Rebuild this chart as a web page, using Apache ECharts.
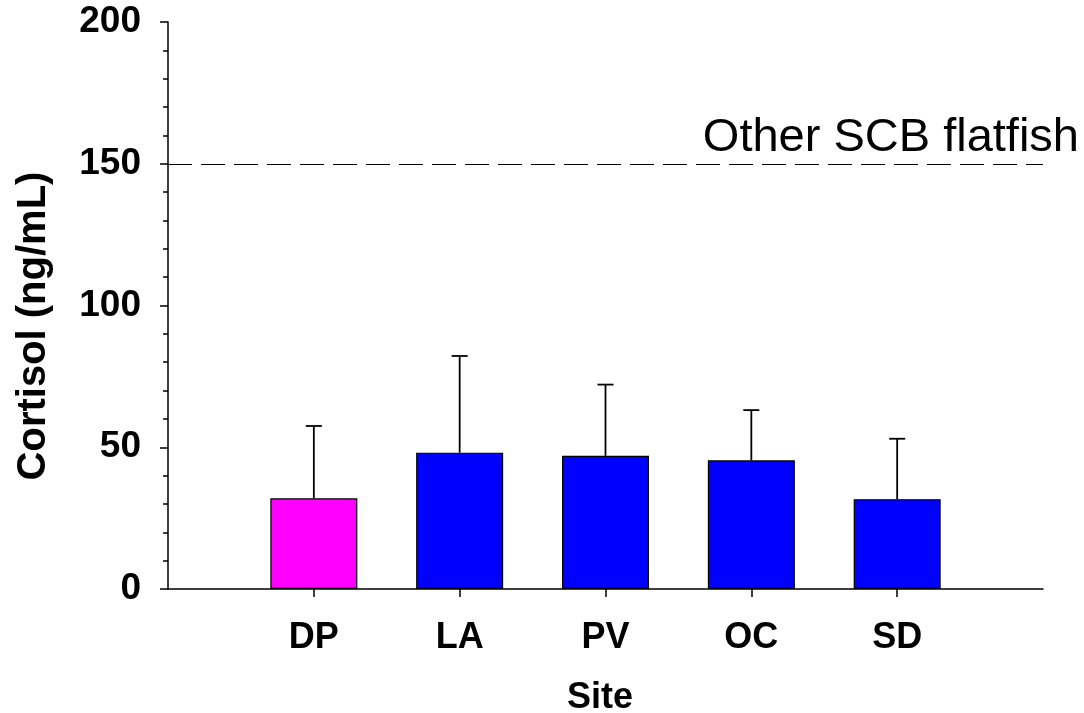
<!DOCTYPE html>
<html><head><meta charset="utf-8">
<script src="https://cdn.jsdelivr.net/npm/echarts@6/dist/echarts.min.js"></script>
<style>html,body{margin:0;padding:0;background:#fff}#c{width:1084px;height:713px}</style>
</head><body><div id="c"></div>
<script>
const sites = ['DP', 'LA', 'PV', 'OC', 'SD'];
const means = [32.0, 48.1, 47.0, 45.4, 31.7];
const sds = [25.5, 34.1, 25.1, 17.7, 21.3];
const yMin = 0, yMax = 200, yStep = 50;
const refValue = 150;
const refLabel = 'Other SCB flatfish';
const xTitle = 'Site';
const yTitle = 'Cortisol (ng/mL)';

const barColors = ['#FF00FF', '#0000FF', '#0000FF', '#0000FF', '#0000FF'];
const cats = [''].concat(sites, ['']);
const font = 'Arial, "Liberation Sans", Helvetica, sans-serif';

const chart = echarts.init(document.getElementById('c'), null, {renderer: 'canvas'});
chart.setOption({
  animation: false,
  backgroundColor: '#fff',
  grid: {left: 168, right: 41, top: 22, bottom: 124, containLabel: false, outerBoundsMode: 'none'},
  xAxis: {
    type: 'category', data: cats, boundaryGap: false,
    axisLine: {show: true, lineStyle: {color: '#000', width: 1.5}},
    axisTick: {show: true, length: 8, lineStyle: {color: '#000', width: 1.5},
      interval: function (i, v) { return v !== ''; }},
    axisLabel: {interval: 0, color: '#000', fontFamily: font, fontWeight: 'bold', fontSize: 36, margin: 31},
    splitLine: {show: false}
  },
  yAxis: {
    type: 'value', min: yMin, max: yMax, interval: yStep,
    axisLine: {show: true, lineStyle: {color: '#000', width: 1.5}},
    axisTick: {show: true, length: 8, lineStyle: {color: '#000', width: 1.5}},
    minorTick: {show: true, splitNumber: 5, length: 5, lineStyle: {color: '#000', width: 1.5}},
    axisLabel: {color: '#000', fontFamily: font, fontWeight: 'bold', fontSize: 37, margin: 27},
    splitLine: {show: false}
  },
  series: [
    {
      type: 'bar', barWidth: 87,
      data: sites.map((s, i) => ({value: [s, means[i]], itemStyle: {color: barColors[i]}})),
      itemStyle: {borderColor: '#000', borderWidth: 1.2},
      markLine: {
        silent: true, symbol: 'none', animation: false,
        lineStyle: {color: '#000', width: 1, type: [24, 9]},
        label: {show: false},
        data: [{yAxis: refValue}]
      }
    },
    {
      type: 'custom', z: 5,
      encode: {x: 0, y: 1},
      data: sites.map((s, i) => [s, means[i], means[i] + sds[i]]),
      renderItem: function (params, api) {
        const base = api.coord([api.value(0), api.value(1)]);
        const top = api.coord([api.value(0), api.value(2)]);
        const hw = 8;
        const st = {stroke: '#000', lineWidth: 1.8};
        return {type: 'group', children: [
          {type: 'line', shape: {x1: base[0], y1: base[1], x2: top[0], y2: top[1]}, style: st},
          {type: 'line', shape: {x1: top[0] - hw, y1: top[1], x2: top[0] + hw, y2: top[1]}, style: st}
        ]};
      }
    }
  ],
  graphic: [
    {type: 'text', right: 5, top: 115,
      style: {text: refLabel, fill: '#000', font: 'normal 47px ' + font}},
    {type: 'text', x: 600, y: 698,
      style: {text: xTitle, fill: '#000', font: 'bold 36px ' + font, align: 'center', verticalAlign: 'middle'}},
    {type: 'text', x: 34, y: 326, rotation: Math.PI / 2,
      style: {text: yTitle, fill: '#000', font: 'bold 40px ' + font, align: 'center', verticalAlign: 'middle'}}
  ]
});
</script>
</body></html>
